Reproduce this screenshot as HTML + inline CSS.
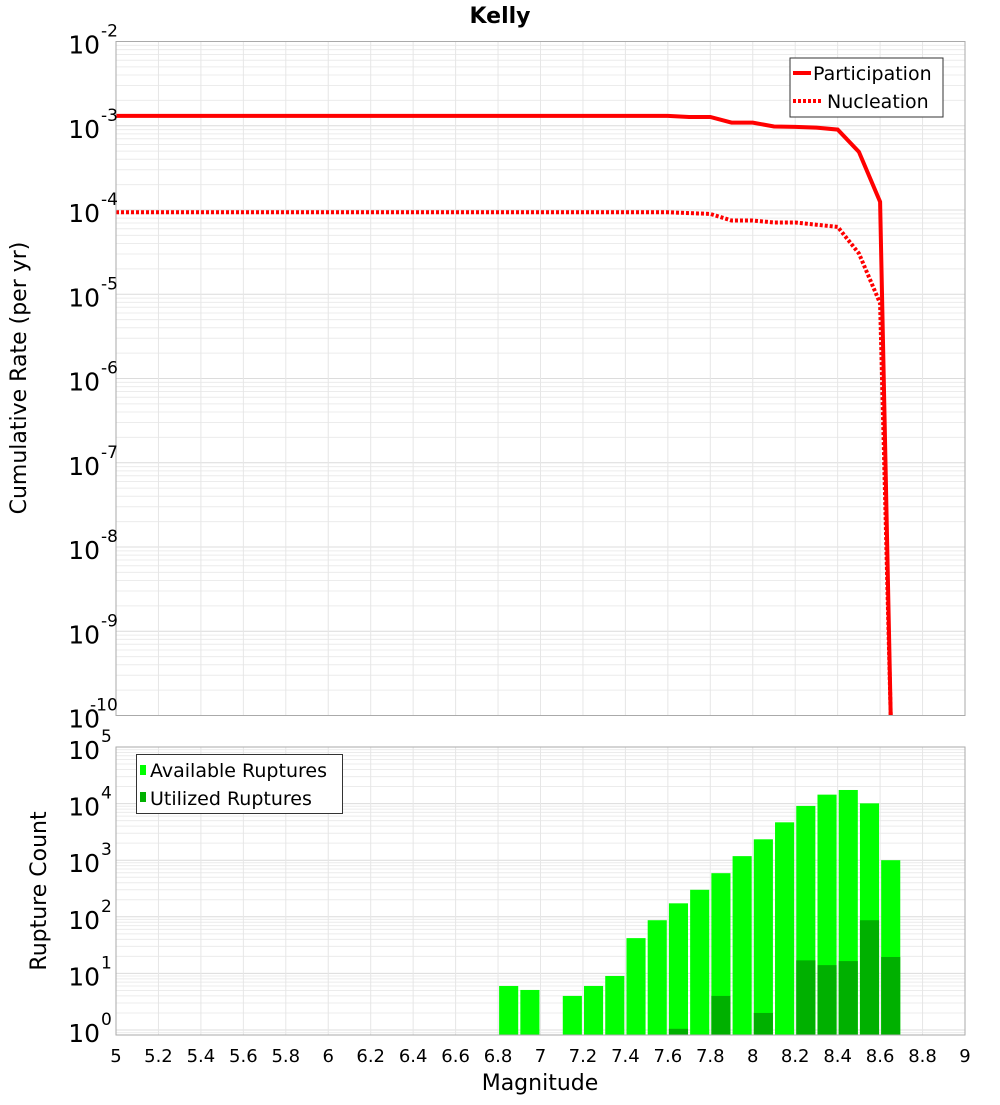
<!DOCTYPE html>
<html><head><meta charset="utf-8"><style>
body{margin:0;background:#fff;}
svg text{font-family:"DejaVu Sans","Liberation Sans",sans-serif;}
</style></head><body>
<svg id="c" width="1000" height="1100" xmlns="http://www.w3.org/2000/svg"></svg>
<script>
const mags=[5,5.1,5.2,5.3,5.4,5.5,5.6,5.7,5.8,5.9,6,6.1,6.2,6.3,6.4,6.5,6.6,6.7,6.8,6.9,7,7.1,7.2,7.3,7.4,7.5,7.6,7.7,7.8,7.9,8,8.1,8.2,8.3,8.4,8.5,8.6,8.65];
const participation=[1.31e-3,1.31e-3,1.31e-3,1.31e-3,1.31e-3,1.31e-3,1.31e-3,1.31e-3,1.31e-3,1.31e-3,1.31e-3,1.31e-3,1.31e-3,1.31e-3,1.31e-3,1.31e-3,1.31e-3,1.31e-3,1.31e-3,1.31e-3,1.31e-3,1.31e-3,1.31e-3,1.31e-3,1.31e-3,1.31e-3,1.31e-3,1.27e-3,1.27e-3,1.09e-3,1.09e-3,0.98e-3,0.97e-3,0.95e-3,0.9e-3,4.9e-4,1.25e-4,1e-10];
const nucleation=[9.4e-5,9.4e-5,9.4e-5,9.4e-5,9.4e-5,9.4e-5,9.4e-5,9.4e-5,9.4e-5,9.4e-5,9.4e-5,9.4e-5,9.4e-5,9.4e-5,9.4e-5,9.4e-5,9.4e-5,9.4e-5,9.4e-5,9.4e-5,9.4e-5,9.4e-5,9.4e-5,9.4e-5,9.4e-5,9.4e-5,9.4e-5,9.2e-5,9.0e-5,7.5e-5,7.5e-5,7.1e-5,7.1e-5,6.7e-5,6.3e-5,3.05e-5,7.8e-6,1e-10];
const binStarts=[6.8,6.9,7.1,7.2,7.3,7.4,7.5,7.6,7.7,7.8,7.9,8.0,8.1,8.2,8.3,8.4,8.5,8.6];
const available=[6,5.1,4,6,9,42,87,173,300,590,1180,2340,4670,9100,14400,17400,10100,1000];
const utilized=[0,0,0,0,0,0,0,1.05,0,4,0,2,0,17,14,16.5,87,19.5];
const xTicks=[5,5.2,5.4,5.6,5.8,6,6.2,6.4,6.6,6.8,7,7.2,7.4,7.6,7.8,8,8.2,8.4,8.6,8.8,9];
const topExp=[-2,-3,-4,-5,-6,-7,-8,-9,-10];
const botExp=[5,4,3,2,1,0];

const S=document.getElementById('c');const NS='http://www.w3.org/2000/svg';
function mk(t,a,p){const e=document.createElementNS(NS,t);for(const k in a)e.setAttribute(k,a[k]);(p||S).appendChild(e);return e;}
const L=116,R=965;
const X=m=>L+(m-5)/4*(R-L);
const T0=41.5,T1=715.5; const Yt=v=>T0+(-2-Math.log10(v))*(T1-T0)/8;
const B0=747,Bdec=56.6,B1=1035; const Yb=v=>Math.min(B1,B0+(5-Math.log10(v))*Bdec);

// grids
function grid(y0,y1,yf,e0,e1){
  for(let e=e0;e<e1;e++)for(let k=1;k<10;k++){const y=yf(k*Math.pow(10,e));if(y<y0-0.1||y>y1)continue;
    const l=mk('line',{x1:L,x2:R,y1:y,y2:y,stroke:k==1?'#dcdcdc':'#ececec','stroke-width':1});
    }
  xTicks.forEach(t=>{const l=mk('line',{x1:X(t),x2:X(t),y1:y0,y2:y1,stroke:'#e6e6e6','stroke-width':1});
    });
}
grid(T0,T1,Yt,-10,-2);
grid(B0,B1,Yb,-1,5);

// title
const tt=mk('text',{x:500,y:23,'text-anchor':'middle','font-size':22,'font-weight':'bold'});tt.textContent='Kelly';


// top lines
function path(vals){return vals.map((v,i)=>(i?'L':'M')+X(mags[i]).toFixed(1)+','+Math.min(T1,Yt(v)).toFixed(1)).join('');}
const g=mk('g',{'clip-path':'url(#clipT)'});
mk('clipPath',{id:'clipT'}).appendChild(Object.assign(document.createElementNS(NS,'rect'),{}));
document.getElementById('clipT').firstChild.setAttribute('x',L);document.getElementById('clipT').firstChild.setAttribute('y',T0);
document.getElementById('clipT').firstChild.setAttribute('width',R-L);document.getElementById('clipT').firstChild.setAttribute('height',T1-T0);
const pn=mk('path',{d:path(nucleation),fill:'none',stroke:'#ff0000','stroke-width':4,'stroke-dasharray':'3,2'},g);

const pp=mk('path',{d:path(participation),fill:'none',stroke:'#ff0000','stroke-width':4},g);


// bars
binStarts.forEach((m,i)=>{
  const x=X(m+0.005),w=X(m+0.095)-x;
  const b=mk('rect',{x:x,y:Yb(available[i]),width:w,height:B1-Yb(available[i]),fill:'#00ff00'});
  
  if(utilized[i]>0){const u=mk('rect',{x:x,y:Yb(utilized[i]),width:w,height:B1-Yb(utilized[i]),fill:'#00b000'});
    }
});

// frames
const f1=mk('rect',{x:L,y:T0,width:R-L,height:T1-T0,fill:'none',stroke:'#aaa'});
const f2=mk('rect',{x:L,y:B0,width:R-L,height:B1-B0,fill:'none',stroke:'#aaa'});

// y labels
function ylab(y,e){const t=mk('text',{x:100,y:y+12,'text-anchor':'end','font-size':25});t.textContent='10';
  
  const s=mk('text',{x:101,y:y-5,'font-size':17,'text-anchor':'start'});s.textContent=String(e);
  if(e<=-10){s.setAttribute('x',90);}
  }
topExp.forEach(e=>ylab(Yt(Math.pow(10,e)),e));
botExp.forEach(e=>ylab(Yb(Math.pow(10,e)),e));

// x labels
xTicks.forEach(t=>{const s=mk('text',{x:X(t),y:1062,'text-anchor':'middle','font-size':18});s.textContent=String(t);
  });
const xt=mk('text',{x:540,y:1090,'text-anchor':'middle','font-size':22});xt.textContent='Magnitude';

const y1=mk('text',{x:0,y:0,'text-anchor':'middle','font-size':22,transform:'translate(26,378) rotate(-90)'});y1.textContent='Cumulative Rate (per yr)';

const y2=mk('text',{x:0,y:0,'text-anchor':'middle','font-size':22,transform:'translate(46,891) rotate(-90)'});y2.textContent='Rupture Count';


// legends
const lg=mk('g',{});
mk('rect',{x:790,y:58,width:153,height:59,fill:'#fff',stroke:'#333'},lg);
mk('line',{x1:793,x2:811,y1:73,y2:73,stroke:'#f00','stroke-width':4},lg);
mk('line',{x1:793,x2:823,y1:101,y2:101,stroke:'#f00','stroke-width':4,'stroke-dasharray':'3,2'},lg);
const l1=mk('text',{x:813,y:80,'font-size':19},lg);l1.textContent='Participation';
const l2=mk('text',{x:827,y:108,'font-size':19},lg);l2.textContent='Nucleation';
const bl=mk('g',{});
mk('rect',{x:136.5,y:754.5,width:206,height:59,fill:'#fff',stroke:'#333'},bl);
mk('rect',{x:140,y:765,width:6,height:10,fill:'#00ff00'},bl);
mk('rect',{x:140,y:792,width:6,height:10,fill:'#00b000'},bl);
const b1=mk('text',{x:150,y:777,'font-size':19},bl);b1.textContent='Available Ruptures';
const b2=mk('text',{x:150,y:805,'font-size':19},bl);b2.textContent='Utilized Ruptures';
</script>
</body></html>
